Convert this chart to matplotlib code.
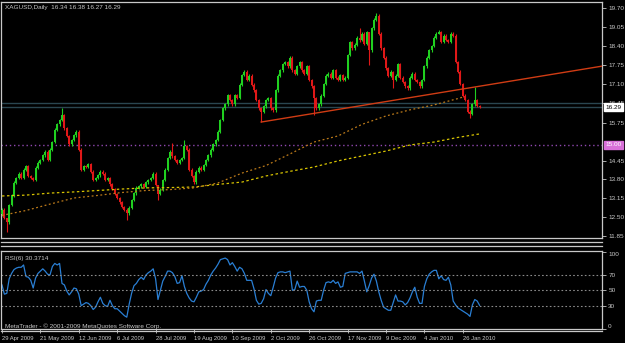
import matplotlib
matplotlib.use("Agg")
import matplotlib.pyplot as plt
import matplotlib.transforms as mtransforms

# daily closes, XAGUSD, 29 Apr 2009 .. early Feb 2010
closes = [
    12.75, 12.47, 12.33, 12.92, 13.26, 13.68, 13.85, 13.99, 13.85, 14.13,
    14.26, 13.92, 13.85, 13.78, 14.20, 14.37, 14.47, 14.64, 14.75, 14.47,
    14.82, 15.09, 15.51, 15.71, 15.85, 16.02, 15.57, 15.30, 15.02, 15.16,
    15.33, 15.44, 14.82, 14.13, 14.26, 14.24, 14.33, 14.06, 13.78, 13.85,
    13.95, 14.06, 13.99, 13.78, 13.85, 13.64, 13.47, 13.30, 13.16, 13.02,
    12.85, 12.75, 12.64, 12.82, 13.09, 13.33, 13.51, 13.57, 13.64, 13.54,
    13.71, 13.78, 13.85, 13.99, 13.61, 13.30, 13.44, 13.78, 14.13, 14.54,
    14.75, 14.61, 14.47, 14.37, 14.47, 14.54, 14.95, 14.82, 14.13, 13.92,
    13.71, 14.06, 14.20, 14.13, 14.30, 14.47, 14.64, 14.82, 15.02, 15.16,
    15.44, 15.85, 16.26, 16.40, 16.71, 16.54, 16.40, 16.71, 16.61, 17.06,
    17.40, 17.51, 17.23, 17.37, 17.06, 16.88, 16.54, 16.26, 16.13, 16.33,
    16.54, 16.61, 16.26, 16.19, 16.88, 17.37, 17.57, 17.78, 17.85, 17.71,
    17.99, 17.57, 17.44, 17.71, 17.85, 17.57, 17.44, 17.71, 17.23, 17.02,
    16.61, 16.26, 16.40, 16.68, 17.09, 17.37, 17.44, 17.30, 17.57, 17.30,
    17.23, 17.40, 17.23, 17.30, 18.09, 18.54, 18.33, 18.44, 18.68, 18.61,
    18.82, 18.47, 18.88, 18.26, 19.02, 19.30, 19.44, 18.82, 18.33, 17.99,
    17.64, 17.37, 17.51, 17.23, 17.37, 17.78, 17.30, 17.16, 17.02, 16.95,
    17.30, 17.44, 17.23, 17.16, 17.02, 17.23, 17.71, 17.99, 18.26, 18.40,
    18.68, 18.82, 18.88, 18.54, 18.75, 18.61, 18.54, 18.82, 18.75, 17.85,
    17.51, 17.09, 16.68, 16.54, 16.13, 16.06, 16.40, 16.54, 16.34, 16.29,
]
first_open = 12.60
# bars with long shadows: bar -> (high, low)
shadows = {
    2: (12.45, 11.99), 25: (16.26, 15.80), 52: (12.80, 12.40), 65: (13.62, 13.09),
    71: (15.06, 14.55), 76: (15.16, 14.50), 108: (16.30, 15.78), 130: (17.05, 16.02),
    149: (19.02, 18.55), 153: (18.90, 17.75), 156: (19.54, 19.25), 163: (17.55, 16.95),
    182: (18.95, 18.80), 195: (16.20, 15.92), 197: (16.99, 16.35), 199: (16.38, 16.27),
}

rsi = [
    57, 45, 46, 65, 72, 77, 79, 80, 80, 83,
    68, 67, 63, 53, 66, 72, 75, 78, 75, 71,
    70, 81, 85, 83, 85, 59, 57, 49, 44, 48,
    53, 52, 45, 30, 32, 34, 33, 30, 25, 28,
    35, 41, 33, 30, 29, 37, 30, 26, 26, 23,
    20, 17, 15, 32, 46, 56, 59, 64, 67, 64,
    70, 73, 75, 78, 65, 38, 50, 62, 68, 75,
    75, 73, 68, 59, 60, 69, 55, 46, 40, 36,
    35, 41, 48, 49, 51, 58, 63, 70, 75, 79,
    84, 90, 91, 92, 90, 83, 86, 81, 75, 80,
    78, 72, 63, 63, 63, 52, 37, 32, 33, 39,
    51, 46, 43, 54, 66, 73, 74, 74, 73, 74,
    75, 50, 51, 62, 54, 55, 55, 50, 35, 26,
    22, 36, 37, 37, 50, 60, 61, 60, 63, 59,
    61, 54, 55, 72, 73, 74, 74, 74, 74, 72,
    75, 62, 48, 56, 66, 71, 62, 48, 37, 28,
    26, 24, 24, 34, 44, 36, 36, 35, 31, 34,
    40, 48, 54, 41, 33, 33, 55, 65, 71, 74,
    76, 76, 65, 69, 64, 63, 67, 57, 36, 31,
    27, 25, 23, 21, 19, 16, 31, 38, 36, 30.37,
]

# moving averages, read every 10 bars
ma_slow_bars = [0, 10, 20, 30, 40, 50, 60, 70, 80, 90, 100, 110, 120, 130, 140, 150, 160, 170, 180, 190, 199]
ma_slow = [13.23, 13.26, 13.33, 13.37, 13.42, 13.47, 13.51, 13.52, 13.54, 13.63, 13.71,
           13.92, 14.08, 14.23, 14.44, 14.61, 14.78, 14.99, 15.09, 15.25, 15.37]
ma_fast_bars = [0, 10, 20, 30, 40, 50, 60, 70, 80, 90, 100, 110, 120, 130, 140, 150, 160, 170, 180, 190, 192]
ma_fast = [12.56, 12.73, 12.95, 13.16, 13.25, 13.35, 13.42, 13.45, 13.51, 13.68, 14.02,
           14.28, 14.68, 15.09, 15.30, 15.70, 15.99, 16.20, 16.37, 16.59, 16.64]

# trend line anchors (bar, price)
trend_a = (108, 15.78)
trend_b = (178, 16.73)

# 15.10 sits under the 15.00 marker in the terminal, so it is left out
price_ticks = [19.70, 19.05, 18.40, 17.75, 17.10, 16.45, 15.75, 14.45, 13.80, 13.15, 12.50, 11.85]
date_bars = [0, 16, 32, 48, 64, 80, 96, 112, 128, 144, 160, 176, 192]
date_labels = ["29 Apr 2009", "21 May 2009", "12 Jun 2009", "6 Jul 2009", "28 Jul 2009",
               "19 Aug 2009", "10 Sep 2009", "2 Oct 2009", "26 Oct 2009", "17 Nov 2009",
               "9 Dec 2009", "4 Jan 2010", "26 Jan 2010"]
bid = 16.29
ask_line = 16.42
level_line = 15.00

W, H = 625, 343
FG = "#c8c8c8"
plt.rcParams["font.family"] = ["Liberation Sans", "DejaVu Sans"]
FS = 4.6


def fx(px):
    return px / W


def fy(py):
    return 1 - py / H


fig = plt.figure(figsize=(W / 100, H / 100), dpi=100, facecolor="black")
ax = fig.add_axes([fx(1.5), fy(238.3), fx(602) - fx(1.5), fy(1.5) - fy(238.3)], facecolor="black")
rax = fig.add_axes([fx(1.5), fy(328.7), fx(602) - fx(1.5), fy(251) - fy(328.7)], facecolor="black")

n = len(closes)
bars = list(range(n))
opens = [first_open] + closes[:-1]
highs, lows, bottoms, heights, cols = [], [], [], [], []
for i in bars:
    o, c = opens[i], closes[i]
    hi, lo = shadows.get(i, (max(o, c) + 0.05, min(o, c) - 0.05))
    highs.append(max(hi, o, c))
    lows.append(min(lo, o, c))
    bottoms.append(min(o, c))
    heights.append(max(abs(c - o), 0.02))
    cols.append("#20d020" if c >= o else "#e01818")

ax.vlines(bars, lows, highs, colors=cols, lw=0.8, zorder=3)
ax.bar(bars, heights, bottom=bottoms, width=0.85, color=cols, linewidth=0, zorder=3)

ax.plot(ma_slow_bars, ma_slow, color="#d8c400", lw=0.9, ls=(0, (2, 2)), zorder=4)
ax.plot(ma_fast_bars, ma_fast, color="#bc7a1a", lw=0.9, ls=(0, (1.5, 2)), zorder=4)

xmax = 250
slope = (trend_b[1] - trend_a[1]) / (trend_b[0] - trend_a[0])
ax.plot([trend_a[0], xmax], [trend_a[1], trend_a[1] + slope * (xmax - trend_a[0])],
        color="#d03c14", lw=1.0, zorder=4)

ax.axhline(ask_line, color="#2a4650", lw=1.0, zorder=2)
ax.axhline(bid, color="#2a4650", lw=1.0, zorder=2)
ax.axhline(level_line, color="#9048b0", lw=1.0, ls=(0, (1, 2)), zorder=2)

ax.set_xlim(-0.2, xmax)
ax.set_ylim(11.771, 19.936)
ax.set_xticks([])
ax.yaxis.tick_right()
ax.set_yticks(price_ticks)
ax.set_yticklabels([f"{p:.2f}" for p in price_ticks])
ax.tick_params(axis="y", colors=FG, labelsize=FS, length=3, width=0.6, pad=1.5)
for s in ax.spines.values():
    s.set_color(FG)
    s.set_linewidth(0.9)

tr = mtransforms.blended_transform_factory(ax.transAxes, ax.transData)
ax.text(1.006, bid, f"{bid:.2f}", transform=tr, fontsize=FS, color="black", va="center", ha="left",
        bbox=dict(boxstyle="square,pad=0.25", fc="white", ec="white"), zorder=10, clip_on=False)
ax.text(1.006, level_line, f"{level_line:.2f}", transform=tr, fontsize=FS, color="white", va="center",
        ha="left", bbox=dict(boxstyle="square,pad=0.25", fc="#d870d8", ec="#d870d8"), zorder=10, clip_on=False)

ax.text(0.005, 0.985, "XAGUSD,Daily  %.2f %.2f %.2f %.2f" % (opens[-1], highs[-1], lows[-1], closes[-1]),
        transform=ax.transAxes, fontsize=FS, color=FG, va="top", ha="left")

# RSI window
rax.plot(bars, rsi, color="#2a7fd4", lw=0.9)
for lvl in [70, 50, 30]:
    rax.axhline(lvl, color="#8a8a8a", lw=0.8, ls=(0, (1.5, 2)))
rax.set_xlim(-0.2, xmax)
rax.set_ylim(0, 101.2)
rax.yaxis.tick_right()
rax.set_yticks([0, 30, 50, 70, 100])
rax.set_yticklabels(["0", "30", "50", "70", "100"])
rax.tick_params(axis="y", colors=FG, labelsize=FS, length=3, width=0.6, pad=1.5)
for lbl in rax.get_yticklabels():
    if lbl.get_text() == "100":
        lbl.set_va("top")
    elif lbl.get_text() == "0":
        lbl.set_va("bottom")
rax.set_xticks(date_bars)
rax.set_xticklabels(date_labels, ha="left")
rax.tick_params(axis="x", colors=FG, labelsize=4.2, length=3, width=0.6, pad=2)
for s in rax.spines.values():
    s.set_color(FG)
    s.set_linewidth(0.9)
rax.text(0.005, 0.93, "RSI(6) %.4f" % 30.3714, transform=rax.transAxes, fontsize=FS, color=FG,
         va="top", ha="left")
rax.text(0.005, 0.0, "MetaTrader - \u00a9 2001-2009 MetaQuotes Software Corp.", transform=rax.transAxes,
         fontsize=FS, color=FG, va="bottom", ha="left")

# window separators
for py in [241.7, 245.7, 331]:
    fig.add_artist(plt.Line2D([fx(1.5), fx(602)], [fy(py), fy(py)], color=FG, lw=0.9))

fig.savefig("out.png", dpi=100, facecolor="black")
